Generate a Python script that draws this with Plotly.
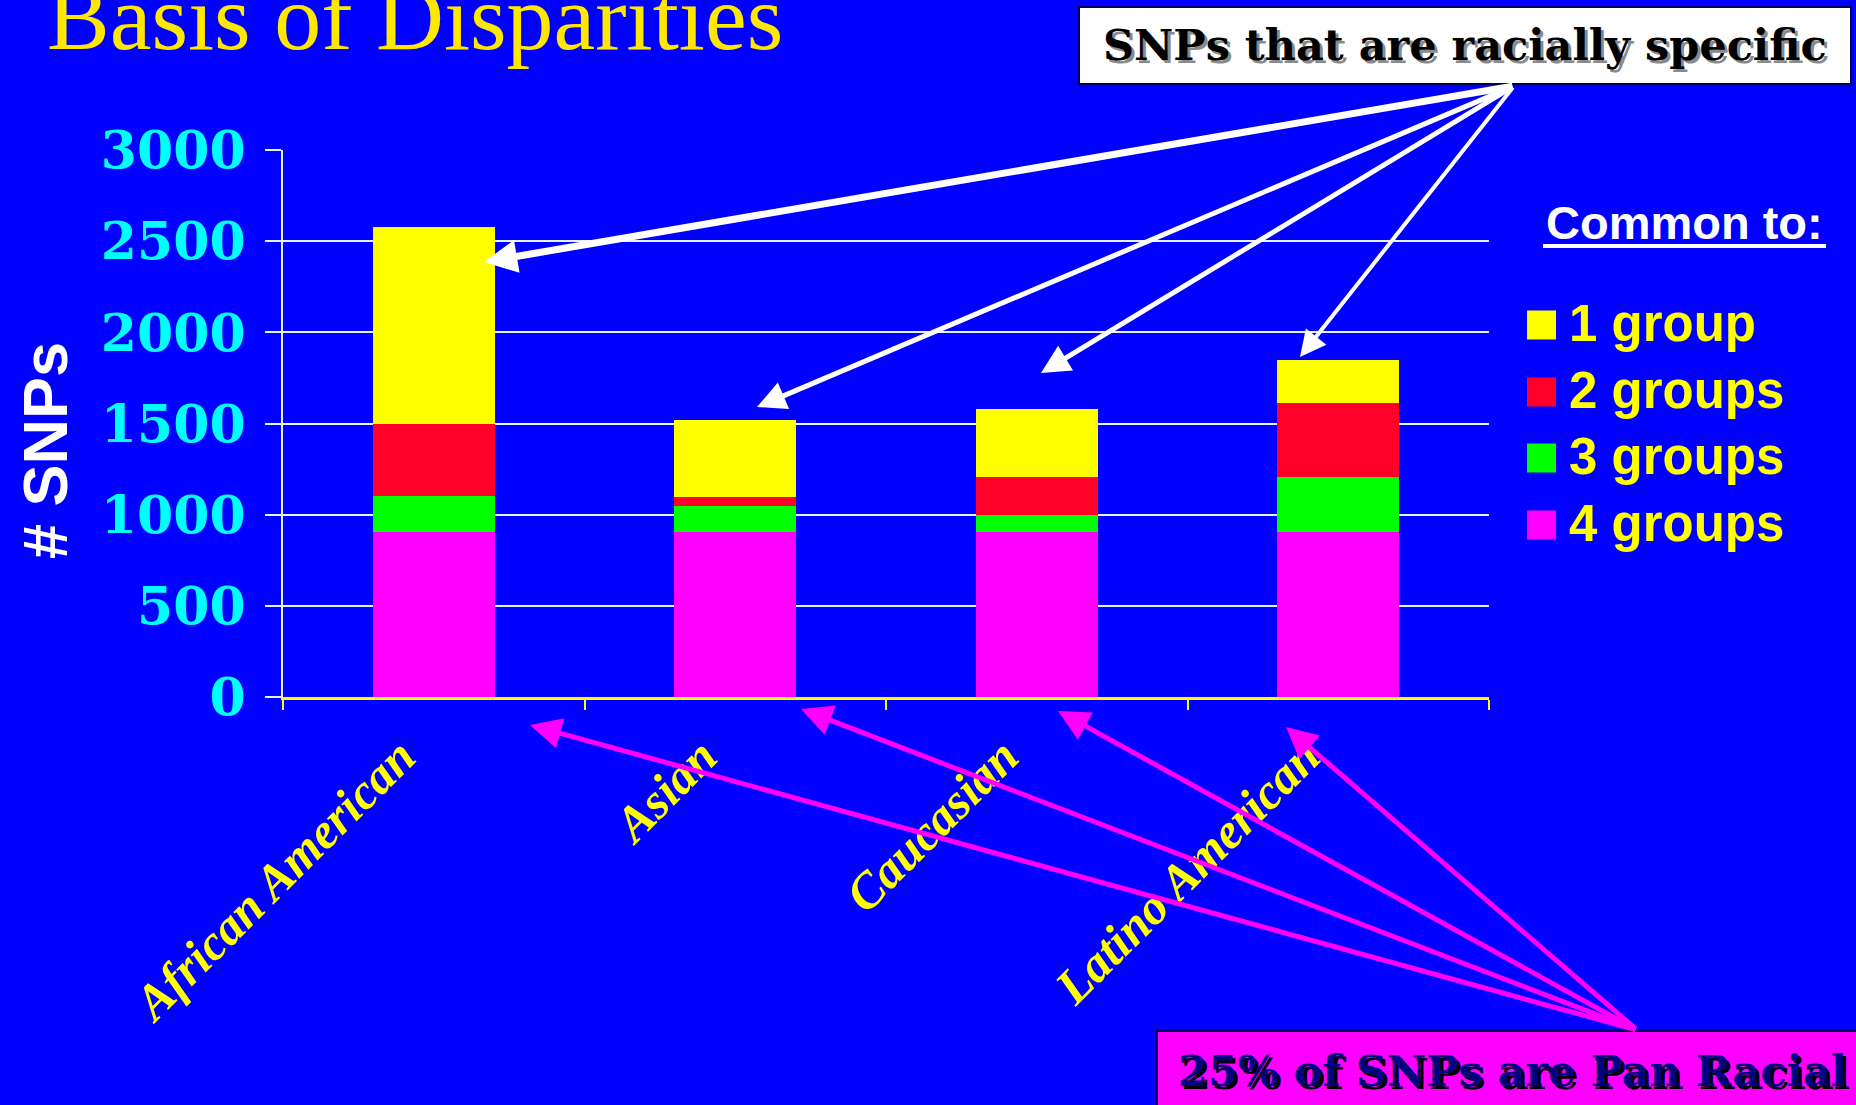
import plotly.graph_objects as go

# ---------------- data ----------------
categories = ["African American", "Asian", "Caucasian", "Latino American"]
series_names = ["1 group", "2 groups", "3 groups", "4 groups"]
groups_1 = [1085, 420, 372, 236]
groups_2 = [395, 52, 208, 403]
groups_3 = [195, 140, 95, 303]
groups_4 = [905, 905, 905, 905]
series_colors = ["#FFFF00", "#FF0028", "#00FF00", "#FF00FF"]
y_ticks = [0, 500, 1000, 1500, 2000, 2500, 3000]

title_text = "Basis of Disparities"
top_note = "SNPs that are racially specific"
bottom_note = "25% of SNPs are Pan Racial"
legend_title = "Common to:"
y_title = "# SNPs"

# ---------------- layout geometry (pixels) ----------------
W, H = 1856, 1105
L, R, T, B = 283, 1489, 150, 697


def px(x):
    return (x - L) / (R - L)


def py(y):
    return (B - y) / (B - T)


fig = go.Figure()
stack = [(series_names[3], groups_4, series_colors[3]),
         (series_names[2], groups_3, series_colors[2]),
         (series_names[1], groups_2, series_colors[1]),
         (series_names[0], groups_1, series_colors[0])]
for name, vals, col in stack:
    fig.add_trace(go.Bar(x=categories, y=vals, name=name, marker=dict(color=col, line=dict(width=0)),
                         showlegend=False))

fig.update_layout(
    width=W, height=H,
    barmode="stack", bargap=0.595,
    paper_bgcolor="#0000FF", plot_bgcolor="#0000FF",
    margin=dict(l=L, r=W - R, t=T, b=H - B),
)

fig.update_yaxes(
    range=[0, 3000], tickvals=y_ticks, ticktext=[str(v) for v in y_ticks],
    showgrid=True, gridcolor="#E6F2FF", gridwidth=2,
    zeroline=False, showline=True, linecolor="#E6F2FF", linewidth=2,
    ticks="outside", ticklen=16, tickcolor="#E6F2FF", tickwidth=2,
    tickfont=dict(family="DejaVu Serif", size=52, color="#00FFFF", weight="bold"),
    ticklabelstandoff=9,
)
fig.update_xaxes(
    showline=True, linecolor="#FFFF00", linewidth=3,
    ticks="outside", tickson="boundaries", ticklen=10, tickcolor="#FFFF00", tickwidth=2,
    tickangle=-45,
    tickfont=dict(family="Liberation Serif", size=50, color="#FFFF00", weight="bold", style="italic"),
    ticklabelshift=-33, ticklabelstandoff=7,
    showgrid=False,
)

ann = []
# title (partly cut off at the top, as in the reference)
ann.append(dict(text=title_text, x=px(45), y=py(17), xref="paper", yref="paper",
                xanchor="left", yanchor="middle", showarrow=False,
                font=dict(family="Liberation Serif", size=94, color="#FFE800")))
# y axis title
ann.append(dict(text="<b>" + y_title + "</b>", x=px(45), y=py(451), xref="paper", yref="paper",
                xanchor="center", yanchor="middle", showarrow=False, textangle=-90,
                font=dict(family="Liberation Sans", size=63, color="#FFFFFF")))

shapes = []
# top note box
shapes.append(dict(type="rect", xref="paper", yref="paper", x0=px(1079), x1=px(1851), y0=py(7), y1=py(84),
                   fillcolor="#FFFFFF", line=dict(color="#000055", width=2), layer="above"))
ann.append(dict(text=top_note, x=px(1465), y=py(45), xref="paper", yref="paper",
                xanchor="center", yanchor="middle", showarrow=False,
                font=dict(family="DejaVu Serif", size=43, color="#000000", weight="bold",
                          shadow="3px 3px 0px #8A8A8A")))
# bottom note box
shapes.append(dict(type="rect", xref="paper", yref="paper", x0=px(1157), x1=px(1900), y0=py(1031), y1=py(1150),
                   fillcolor="#FF00FF", line=dict(color="#000055", width=2), layer="above"))
ann.append(dict(text=bottom_note, x=px(1176), y=py(1071), xref="paper", yref="paper",
                xanchor="left", yanchor="middle", showarrow=False,
                font=dict(family="DejaVu Serif", size=43, color="#000080", weight="bold",
                          shadow="3px 3px 0px #000000")))

# white arrows (racially specific)
w_start = (1514, 86)
w_tips = [(484, 262, 7, 0.95), (757, 407, 5, 1.15), (1041, 373, 5, 1.15), (1300, 357, 4, 1.3)]
for tx, ty, wd, hs in w_tips:
    ann.append(dict(text="", x=px(tx), y=py(ty), xref="paper", yref="paper",
                    ax=w_start[0] - tx, ay=w_start[1] - ty, showarrow=True,
                    arrowhead=2, arrowsize=hs, arrowwidth=wd, arrowcolor="#FFFFFF", standoff=0))
# magenta arrows (pan racial)
m_start = (1637, 1030)
m_tips = [(530, 725), (801, 709), (1058, 711), (1286, 727)]
for tx, ty in m_tips:
    ann.append(dict(text="", x=px(tx), y=py(ty), xref="paper", yref="paper",
                    ax=m_start[0] - tx, ay=m_start[1] - ty, showarrow=True,
                    arrowhead=2, arrowsize=1.25, arrowwidth=5, arrowcolor="#FF00FF", standoff=0))

# legend (manual)
ann.append(dict(text="<b>" + legend_title + "</b>", x=px(1684), y=py(222), xref="paper", yref="paper",
                xanchor="center", yanchor="middle", showarrow=False,
                font=dict(family="Liberation Sans", size=47, color="#FFFFFF")))
shapes.append(dict(type="line", xref="paper", yref="paper", x0=px(1543), x1=px(1826), y0=py(246), y1=py(246),
                   line=dict(color="#FFFFFF", width=4), layer="above"))
row_y = [325, 392, 458, 525]
for name, col, cy in zip(series_names, series_colors, row_y):
    shapes.append(dict(type="rect", xref="paper", yref="paper", x0=px(1527), x1=px(1556),
                       y0=py(cy + 14.5), y1=py(cy - 14.5), fillcolor=col, line=dict(width=0), layer="above"))
    ann.append(dict(text="<b>" + name + "</b>", x=px(1567), y=py(cy - 2), xref="paper", yref="paper",
                    xanchor="left", yanchor="middle", showarrow=False,
                    font=dict(family="Liberation Sans", size=51, color="#FFFF00")))

fig.update_layout(annotations=ann, shapes=shapes)
fig.write_html("out.html")
